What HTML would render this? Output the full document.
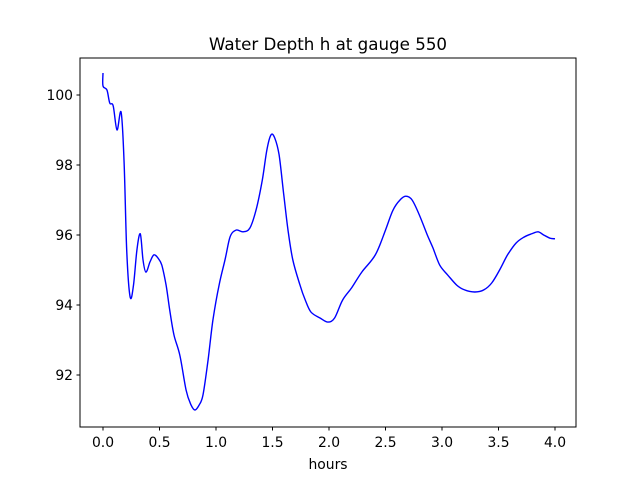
<!DOCTYPE html>
<html><head><meta charset="utf-8"><style>
body{margin:0;background:#fff;}
svg text{font-family:"DejaVu Sans","Liberation Sans",sans-serif;}
</style></head><body>
<svg id="chart" width="640" height="480" xmlns="http://www.w3.org/2000/svg">
<rect width="640" height="480" fill="#fff"/>
<text x="328" y="50" font-size="16.7" text-anchor="middle">Water Depth h at gauge 550</text>
<g id="plot"></g>
<rect x="80" y="58" width="496" height="369" fill="none" stroke="#000" stroke-width="1"/>
<text x="328" y="469" font-size="13.9" text-anchor="middle">hours</text>
</svg>
<script>
const times=[0,0,0.035,0.06,0.09,0.124,0.16,0.186,0.21,0.24,0.27,0.30,0.33,0.354,0.38,0.416,0.45,0.487,0.52,0.558,0.59,0.628,0.68,0.735,0.78,0.814,0.85,0.885,0.93,0.973,1.027,1.08,1.124,1.177,1.24,1.30,1.354,1.41,1.45,1.487,1.52,1.558,1.6,1.637,1.68,1.743,1.79,1.84,1.92,1.99,2.05,2.12,2.2,2.29,2.41,2.5,2.566,2.628,2.68,2.735,2.8,2.87,2.92,2.98,3.05,3.13,3.2,3.29,3.37,3.44,3.51,3.58,3.655,3.726,3.79,3.85,3.9,3.956,4.0];
const depth=[100.63,100.26,100.14,99.77,99.69,99.0,99.51,98.14,95.57,94.23,94.57,95.57,96.03,95.29,94.94,95.23,95.43,95.34,95.14,94.57,93.86,93.14,92.57,91.57,91.14,91.0,91.14,91.43,92.43,93.57,94.57,95.29,95.94,96.14,96.09,96.2,96.71,97.57,98.43,98.86,98.77,98.29,97.14,96.14,95.29,94.57,94.14,93.8,93.63,93.51,93.63,94.14,94.49,94.94,95.43,96.14,96.71,97.0,97.11,97.0,96.57,96.0,95.63,95.14,94.86,94.57,94.43,94.37,94.43,94.63,95.0,95.43,95.77,95.94,96.03,96.09,96.0,95.91,95.89];
const xTicks=[0,0.5,1,1.5,2,2.5,3,3.5,4];
const xTickLabels=["0.0","0.5","1.0","1.5","2.0","2.5","3.0","3.5","4.0"];
const yTicks=[92,94,96,98,100];
const yTickLabels=["92","94","96","98","100"];
const NS="http://www.w3.org/2000/svg";
const sx=t=>103+t*113;
const sy=v=>95-(v-100)*35;
const g=document.getElementById('plot');
function mk(tag,attrs){const e=document.createElementNS(NS,tag);for(const k in attrs)e.setAttribute(k,attrs[k]);return e;}
xTicks.forEach((t,i)=>{
  const l=mk('line',{x1:sx(t),x2:sx(t),y1:427,y2:430.5,stroke:'#000'});
  
  
  g.appendChild(l);
  const tx=mk('text',{x:sx(t),y:447,'font-size':13.9,'text-anchor':'middle'});
  tx.textContent=xTickLabels[i];
  
  
  g.appendChild(tx);
});
yTicks.forEach((v,i)=>{
  const l=mk('line',{x1:76.5,x2:80,y1:sy(v),y2:sy(v),stroke:'#000'});
  
  
  g.appendChild(l);
  const tx=mk('text',{x:73,y:sy(v)+5,'font-size':13.9,'text-anchor':'end'});
  tx.textContent=yTickLabels[i];
  
  
  g.appendChild(tx);
});
const P=times.map((t,i)=>[sx(t),sy(depth[i])]);
let d='M'+P[0][0].toFixed(1)+','+P[0][1].toFixed(1);
for(let i=0;i<P.length-1;i++){
  const p0=P[Math.max(0,i-1)],p1=P[i],p2=P[i+1],p3=P[Math.min(P.length-1,i+2)];
  const c1x=p1[0]+(p2[0]-p0[0])/6,c1y=p1[1]+(p2[1]-p0[1])/6;
  const c2x=p2[0]-(p3[0]-p1[0])/6,c2y=p2[1]-(p3[1]-p1[1])/6;
  d+=' C'+c1x.toFixed(1)+','+c1y.toFixed(1)+' '+c2x.toFixed(1)+','+c2y.toFixed(1)+' '+p2[0].toFixed(1)+','+p2[1].toFixed(1);
}
const pl=mk('path',{d:d,fill:'none',stroke:'#0000ff','stroke-width':1.4,'stroke-linejoin':'round'});


g.appendChild(pl);
</script>
</body></html>
